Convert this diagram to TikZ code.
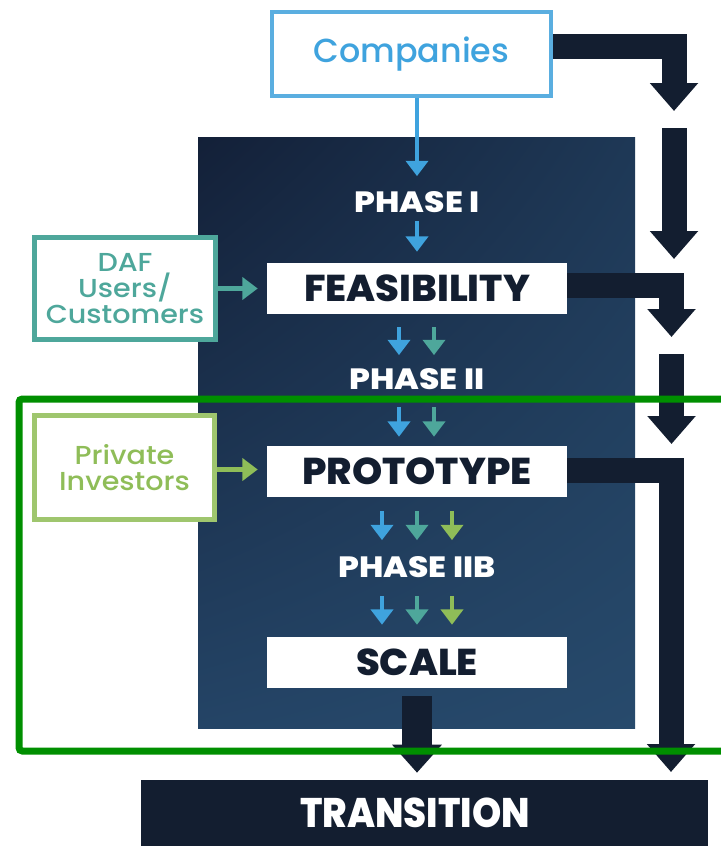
\documentclass[tikz,border=0pt]{standalone}
\usepackage{fontspec}
\newfontfamily\medfont{Poppins Medium}
\newfontfamily\sidefont{Poppins Medium}[FakeStretch=1.1]
\newfontfamily\heavyfont{Poppins ExtraBold}[FakeStretch=1.03]
\newfontfamily\phasefont{Poppins ExtraBold}[FakeStretch=1.12]
\newfontfamily\transfont{Poppins ExtraBold}[FakeStretch=0.9]
\usetikzlibrary{arrows.meta,calc,shadings}
\definecolor{navy}{HTML}{131E30}
\definecolor{cblue}{HTML}{3FA3DE}
\definecolor{cblueb}{HTML}{5AAEE0}
\definecolor{cteal}{HTML}{4EA79B}
\definecolor{cgreen}{HTML}{8FBD58}
\definecolor{cgreenb}{HTML}{9FC66E}
\definecolor{frameg}{HTML}{008F00}
\definecolor{panUL}{HTML}{132038}
\definecolor{panUR}{HTML}{1E3856}
\definecolor{panLL}{HTML}{244466}
\definecolor{panLR}{HTML}{274A6C}
\begin{document}
\begin{tikzpicture}[x=0.75pt,y=-0.75pt,
  sa/.style={line width=3pt,-{Triangle[width=16.5pt,length=11.5pt]}},
  ba/.style={navy,line width=18.75pt,line join=miter,-{Triangle[width=35pt,length=21pt]}},
  wbox/.style={fill=white,minimum width=225pt,minimum height=38.25pt,inner sep=0pt,text=navy,font=\heavyfont\fontsize{28}{28}\selectfont},
  plabel/.style={text=white,inner sep=0pt,font=\phasefont\fontsize{22}{22}\selectfont},
  sidebox/.style={fill=white,line width=3.75pt,inner sep=0pt,align=center,font=\sidefont\fontsize{19.5}{19.5}\selectfont},
  gframe/.style={frameg,line width=5.25pt,rounded corners=2.5pt}]
\useasboundingbox (0,0) rectangle (721,846);
\fill[white] (0,0) rectangle (721,846);
% panel
\shade[upper left=panUL, upper right=panUR, lower left=panLL, lower right=panLR] (198,137) rectangle (635,728);
% nodes
\node[draw=cblueb,line width=3pt,fill=white,minimum width=209.25pt,minimum height=63pt,inner sep=0pt,text=cblue,font=\medfont\fontsize{25}{30}\selectfont] (comp) at (411.5,54) {\raisebox{-1.5pt}{Companies}};
\node[plabel] (p1) at (417,202) {PHASE I};
\node[wbox] (feas) at (417,288.5) {FEASIBILITY};
\node[plabel] (p2) at (417,379) {PHASE II};
\node[wbox] (proto) at (417,471.5) {PROTOTYPE};
\node[plabel] (p3) at (417,567) {PHASE IIB};
\node[wbox] (scale) at (417,662.5) {SCALE};
\node[fill=navy,minimum width=425.25pt,minimum height=49.5pt,inner sep=0pt,text=white,font=\transfont\fontsize{31}{31}\selectfont] (trans) at (424.5,813) {TRANSITION\kern14pt};
\node[sidebox,draw=cteal,text=cteal,minimum width=135.75pt,minimum height=76.5pt] (daf) at (125,288.5) {DAF\\Users/\\Customers};
\node[sidebox,draw=cgreenb,text=cgreen,minimum width=135pt,minimum height=78pt] (priv) at (124.5,467.5) {Private\\Investors};
% small arrows
\draw[sa,cblue,shorten >=11.25pt] (comp.south -| p1.north) -- (p1.north);
\draw[sa,cblue,shorten <=6pt,shorten >=8.25pt] (p1.south) -- (feas.north);
\foreach \dx/\c in {-18/cblue,17/cteal}{
  \draw[sa,\c,shorten <=9.75pt,shorten >=9.75pt] ([xshift=\dx*0.75pt]feas.south) -- ([xshift=\dx*0.75pt]p2.north);
  \draw[sa,\c,shorten <=12.75pt,shorten >=6.75pt] ([xshift=\dx*0.75pt]p2.south) -- ([xshift=\dx*0.75pt]proto.north);
}
\foreach \dx/\c in {-35/cblue,0/cteal,35/cgreen}{
  \draw[sa,\c,shorten <=10.5pt,shorten >=12pt] ([xshift=\dx*0.75pt]proto.south) -- ([xshift=\dx*0.75pt]p3.north);
  \draw[sa,\c,shorten <=13.5pt,shorten >=9pt] ([xshift=\dx*0.75pt]p3.south) -- ([xshift=\dx*0.75pt]scale.north);
}
\draw[sa,cteal,line width=3.75pt,shorten >=6.75pt] (daf.east) -- (feas.west |- daf.east);
\coordinate (pe) at ([yshift=-1.5pt]priv.east);
\draw[sa,cgreen,line width=3.75pt,shorten >=6.75pt] (pe) -- (proto.west |- pe);
% big arrows
\coordinate (t1) at (674,111);
\coordinate (s2) at (674,128);
\coordinate (t2) at (674,259);
\coordinate (t3) at (671.5,337);
\coordinate (s4) at (671.5,354);
\coordinate (t4) at (671.5,444);
\coordinate (t5) at (671,772);
\draw[ba] ([yshift=6pt]comp.east) -| (t1);
\draw[ba] (s2) -- (t2);
\draw[ba] ([yshift=2.6pt]feas.east) -| (t3);
\draw[ba] (s4) -- (t4);
\draw[ba] ([yshift=0.75pt]proto.east) -| (t5);
\draw[ba,line width=22.5pt,-{Triangle[width=36pt,length=21pt]},shorten <=6pt,shorten >=5.25pt] (scale.south) -- (scale.south |- trans.north);
% green frame
\draw[gframe] (723,399) -- (19,399) -- (19,751) -- (723,751);
\end{tikzpicture}
\end{document}
